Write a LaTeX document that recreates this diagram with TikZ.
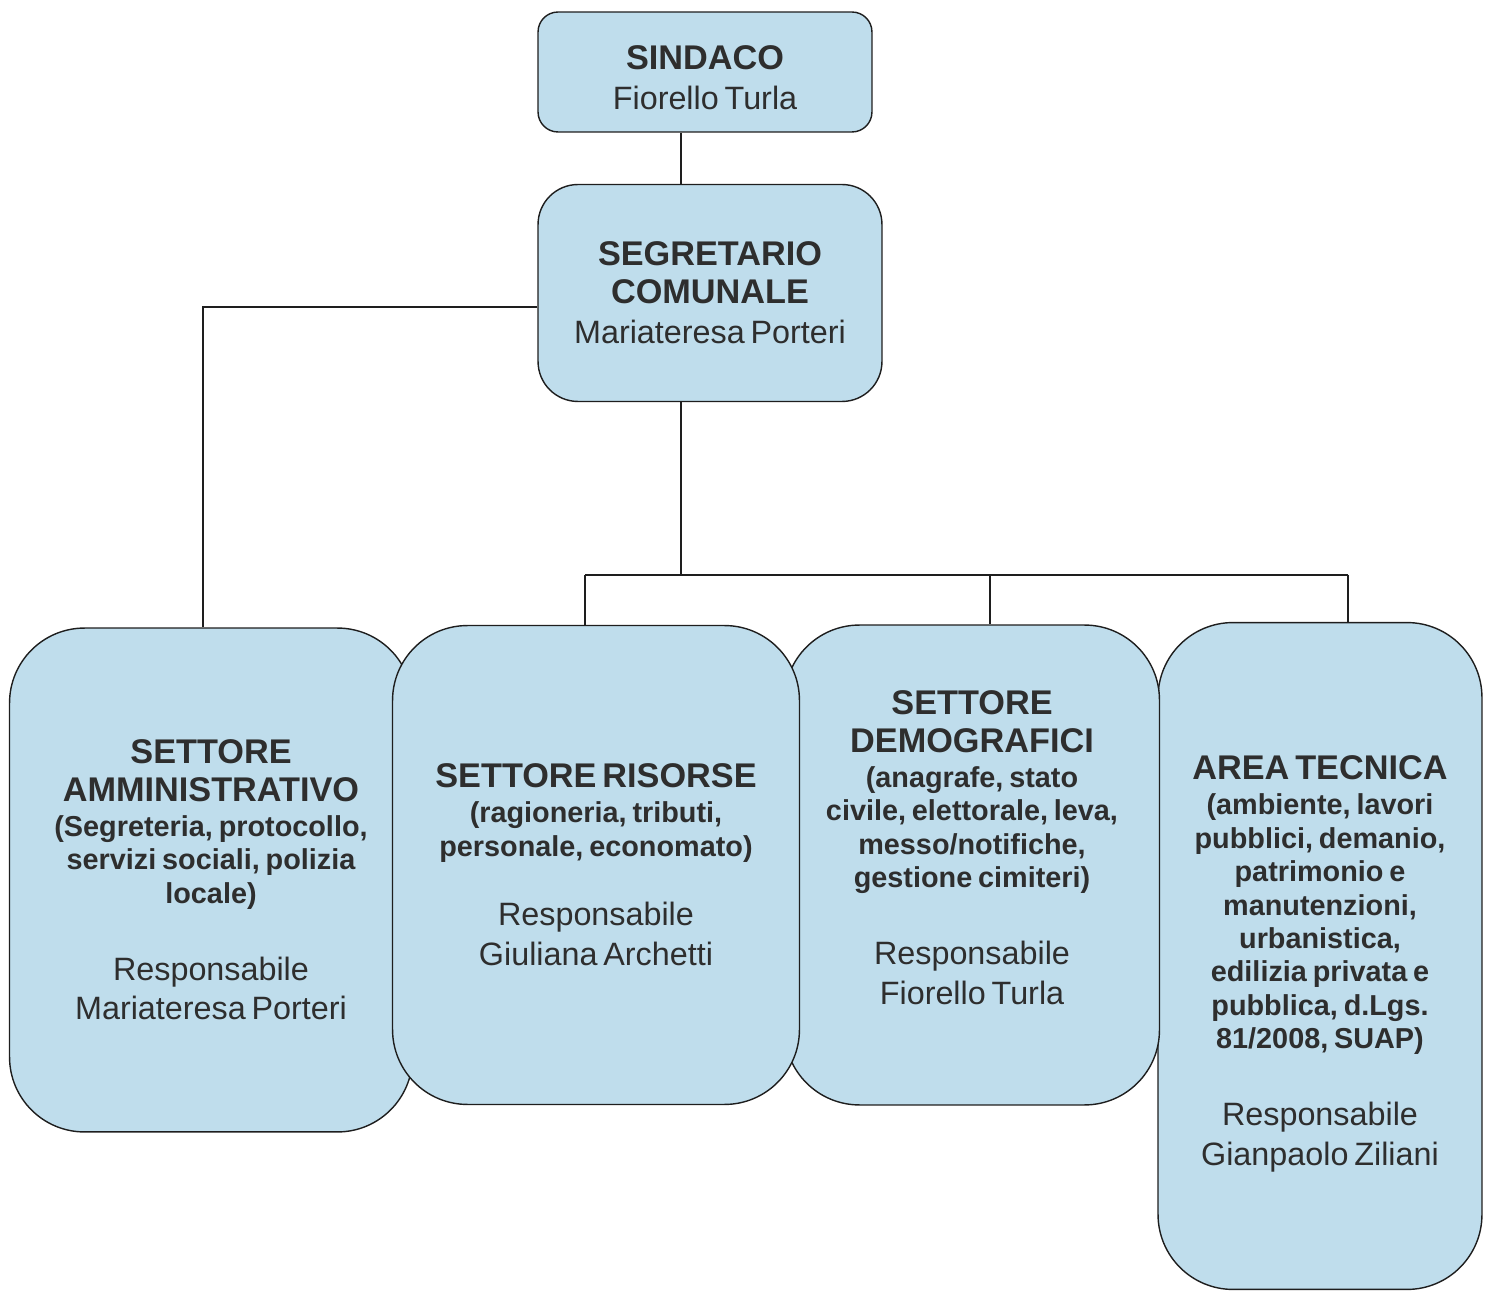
\documentclass[tikz,border=0pt]{standalone}
\usepackage{fontspec}
\setmainfont{Liberation Sans}
\usetikzlibrary{positioning}
\definecolor{boxBlue}{HTML}{BFDDEC}
\definecolor{inkGray}{HTML}{2E2E2E}
\definecolor{lineDark}{HTML}{1E1E1E}
\newcommand{\hdfont}{\fontsize{19.5}{21.5}\selectfont\bfseries}
\newcommand{\sbfont}{\fontsize{16.4}{19}\selectfont\bfseries}
\newcommand{\nmfont}{\fontsize{18.4}{22.7}\selectfont\mdseries}

\begin{document}
\begin{tikzpicture}[
    x=0.02cm, y=-0.02cm,
    unit/.style={rectangle, draw=lineDark, fill=boxBlue, line width=0.8pt,
                 align=center, text=inkGray, inner sep=2pt},
    sector/.style={unit, rounded corners=1.5cm},
    link/.style={draw=lineDark, line width=0.8pt},
]
\useasboundingbox (0,0) rectangle (1485,1293);

% Vertice
\node[unit, rounded corners=0.4cm, text width=6cm, minimum width=6.68cm, minimum height=2.4cm] (sindaco) at (705,72)
    {\hdfont SINDACO\par\nmfont Fiorello Turla\par\vspace{-6pt}};
\node[unit, rounded corners=0.8cm, text width=6.4cm, minimum width=6.88cm, minimum height=4.34cm] (segretario) at (710,293)
    {\hdfont SEGRETARIO\\COMUNALE\par\nmfont Mariateresa Porteri\par};

% Settori
\node[sector, text width=7.6cm, minimum width=8.06cm, minimum height=10.08cm] (ammin) at (211,880)
    {\hdfont SETTORE\\AMMINISTRATIVO\par
     \vspace{1pt}\sbfont (Segreteria, protocollo,\\servizi sociali, polizia\\locale)\par
     \vspace{21pt}\nmfont Responsabile\\Mariateresa Porteri\par};
\node[sector, text width=6cm, minimum width=6.48cm, minimum height=13.34cm] (area) at (1320,956)
    {\hdfont AREA TECNICA\par
     \vspace{1pt}\sbfont (ambiente, lavori\\pubblici, demanio,\\patrimonio e\\manutenzioni,\\urbanistica,\\edilizia privata e\\pubblica, d.Lgs.\\81/2008, SUAP)\par
     \vspace{21pt}\nmfont Responsabile\\Gianpaolo Ziliani\par\vspace{-9pt}};
\node[sector, text width=7cm, minimum width=7.5cm, minimum height=9.6cm] (demografici) at (972,865)
    {\hdfont SETTORE\\DEMOGRAFICI\par
     \vspace{1pt}\sbfont (anagrafe, stato\\civile, elettorale, leva,\\messo/notifiche,\\gestione cimiteri)\par
     \vspace{21pt}\nmfont Responsabile\\Fiorello Turla\par\vspace{20pt}};
\node[sector, text width=7.6cm, minimum width=8.14cm, minimum height=9.58cm] (risorse) at (596,865)
    {\hdfont SETTORE RISORSE\par
     \vspace{1pt}\sbfont (ragioneria, tributi,\\personale, economato)\par
     \vspace{17pt}\nmfont Responsabile\\Giuliana Archetti\par};

% Collegamenti
\coordinate (trunk) at (681,575);
\coordinate (lbranch) at (203,307);
\coordinate (barL) at (585,575);
\coordinate (barM) at (990,575);
\coordinate (barR) at (1348,575);

\draw[link] (sindaco.south -| trunk) -- (segretario.north -| trunk);
\draw[link] (segretario.west |- lbranch) -- (lbranch) -- (lbranch |- ammin.north);
\draw[link] (segretario.south -| trunk) -- (trunk);
\draw[link] (barL) -- (barR);
\draw[link] (barL) -- (risorse.north -| barL);
\draw[link] (barM) -- (demografici.north -| barM);
\draw[link] (barR) -- (area.north -| barR);

\end{tikzpicture}
\end{document}
